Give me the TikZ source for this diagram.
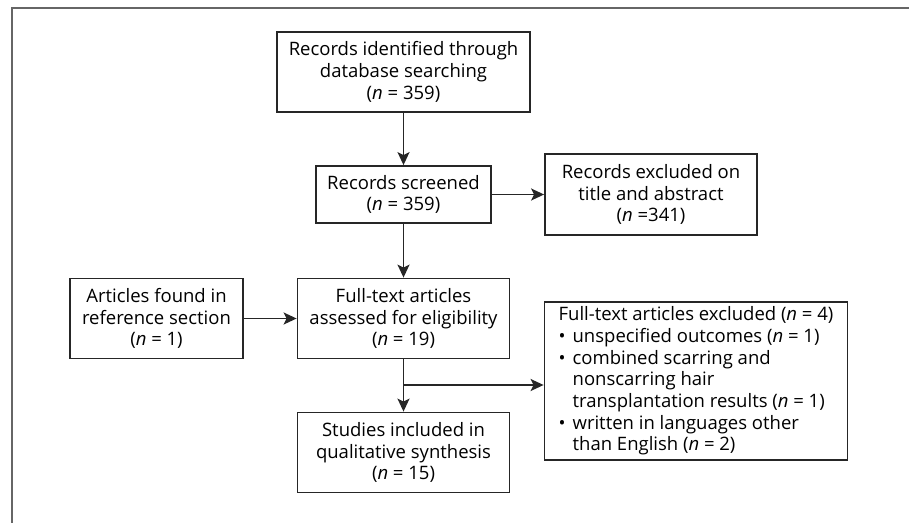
\documentclass[tikz,border=0pt]{standalone}
\usepackage{fontspec}
\setmainfont{Open Sans}
\usetikzlibrary{arrows.meta}
\begin{document}
\begin{tikzpicture}[x=1pt,y=-1pt,
  box/.style={draw=black!85,line width=1.8pt,rectangle,inner sep=0pt,align=center,
    font=\fontsize{18.5}{21.7}\selectfont},
  arr/.style={line width=1.9pt,draw=black!85,-{Stealth[length=13pt,width=12pt,inset=3pt]}}]
\useasboundingbox (0,0) rectangle (909,522);
\fill[white] (0,0) rectangle (909,522);
\draw[line width=2pt,black!60] (12,530) -- (12,8) -- (920,8);
\node[box,minimum width=253pt,minimum height=80pt] (b1) at (403.5,72)
  {Records identified through\\database searching\\(\textit{n} = 359)};
\node[box,minimum width=175pt,minimum height=57pt] (b2) at (403.5,194.5)
  {Records screened\\(\textit{n} = 359)};
\node[box,minimum width=212pt,minimum height=81pt] (b3) at (651,194.5)
  {Records excluded on\\title and abstract\\(\textit{n} =341)};
\node[box,minimum width=212pt,minimum height=80pt] (b4) at (403.5,318.5)
  {Full-text articles\\assessed for eligibility\\(\textit{n} = 19)};
\node[box,minimum width=173pt,minimum height=80pt] (b5) at (156.5,318.5)
  {Articles found in\\reference section\\(\textit{n} = 1)};
\node[box,minimum width=212pt,minimum height=80pt] (b7) at (403.5,452.5)
  {Studies included in\\qualitative synthesis\\(\textit{n} = 15)};
\node[box,minimum width=303pt,minimum height=158pt,align=left] (b6) at (696,381)
  {Full-text articles excluded (\textit{n} = 4)\\
   \makebox[14pt][l]{•}unspecified outcomes (\textit{n} = 1)\\
   \makebox[14pt][l]{•}combined scarring and\\
   \hspace*{14pt}nonscarring hair\\
   \hspace*{14pt}transplantation results (\textit{n} = 1)\\
   \makebox[14pt][l]{•}written in languages other\\
   \hspace*{14pt}than English (\textit{n} = 2)};
\draw[arr] (b1) -- (b2);
\draw[arr] (b2) -- (b3);
\draw[arr] (b2) -- (b4);
\draw[arr] (b5) -- (b4);
\draw[arr] (b4) -- (b7);
\coordinate (br) at (b4.south |- 0,385);
\draw[arr] (br) -- (br -| b6.west);
\end{tikzpicture}
\end{document}
